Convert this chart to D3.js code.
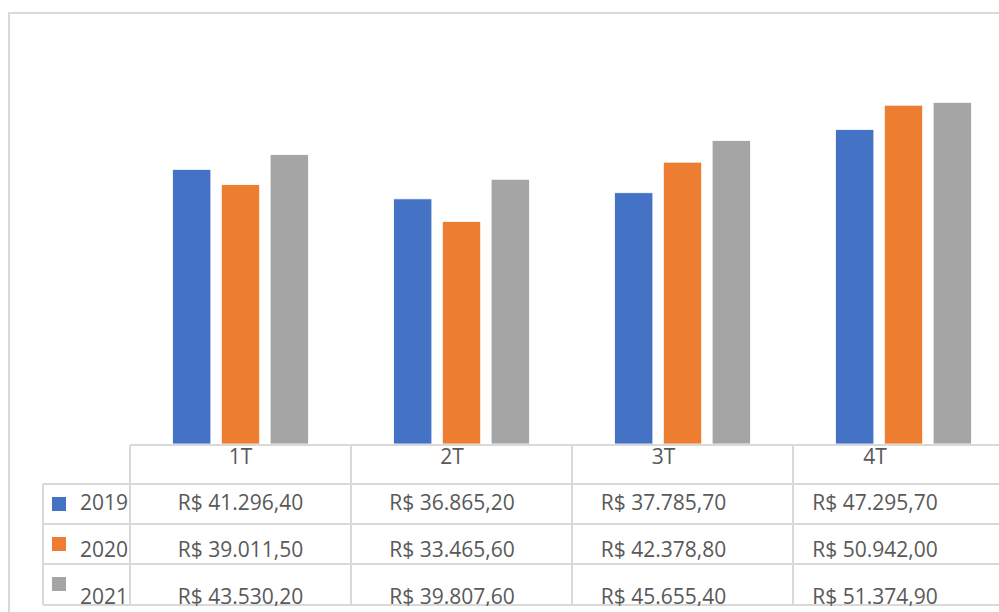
<!DOCTYPE html>
<html>
<head>
<meta charset="utf-8">
<script src="https://cdn.jsdelivr.net/npm/d3@7"></script>
<style>
  html, body { margin: 0; padding: 0; background: #ffffff; overflow: hidden; }
  svg { display: block; }
  text { font-family: "Open Sans", "Noto Sans", sans-serif; fill: #595959; }
</style>
</head>
<body>
<svg id="chart" width="999" height="612"></svg>
<script>
// ---- data ----
const categories = ["1T", "2T", "3T", "4T"];
const seriesNames = ["2019", "2020", "2021"];
const values2019 = [41296.40, 36865.20, 37785.70, 47295.70];
const values2020 = [39011.50, 33465.60, 42378.80, 50942.00];
const values2021 = [43530.20, 39807.60, 45655.40, 51374.90];
const seriesColors = ["#4472C4", "#ED7D31", "#A5A5A5"];
const yMax = 60000;

const seriesValues = [values2019, values2020, values2021];
const series = seriesNames.map((name, i) => ({ name, color: seriesColors[i], values: seriesValues[i] }));

const ptBR = d3.formatLocale({ decimal: ",", thousands: ".", grouping: [3], currency: ["R$ ", ""] });
const fmt = ptBR.format("$,.2f");

const svg = d3.select("#chart");
const fontSize = 21;

// outer chart border
svg.append("rect")
  .attr("x", 9).attr("y", 13)
  .attr("width", 1100).attr("height", 700)
  .attr("fill", "#ffffff")
  .attr("stroke", "#d9d9d9").attr("stroke-width", 2);

// scales
const x0 = d3.scaleBand().domain(categories).range([130, 130 + 221 * categories.length]);
const x1 = d3.scaleBand().domain(seriesNames)
  .range([42.5, x0.bandwidth() - 42.5])
  .paddingInner(10.5 / 49);
const y = d3.scaleLinear().domain([0, yMax]).range([444, 45]);
// label positions inside the data table
const xText = d3.scaleBand().domain(categories).range([134.75, 980.75]);

// bars
const groups = svg.append("g").selectAll("g")
  .data(series).join("g")
  .attr("fill", d => d.color);

groups.selectAll("rect")
  .data(d => d.values.map((v, i) => ({ cat: categories[i], name: d.name, v })))
  .join("rect")
  .attr("x", d => x0(d.cat) + x1(d.name))
  .attr("y", d => y(d.v))
  .attr("width", x1.bandwidth())
  .attr("height", d => y(0) - y(d.v))
  .attr("stroke", "#ffffff")
  .attr("stroke-width", 0.8);

// data table
const lineColor = "#d9d9d9";
const tableLeft = 43;
const tableRight = x0.range()[1];
const headerTop = 445;
const rowTops = [484, 524, 564];
const tableBottom = 605;

const grid = svg.append("g").attr("stroke", lineColor).attr("stroke-width", 2).attr("fill", "none");
grid.append("line").attr("x1", x0.range()[0]).attr("x2", tableRight).attr("y1", headerTop).attr("y2", headerTop);
rowTops.concat([tableBottom]).forEach(yy => {
  grid.append("line").attr("x1", tableLeft).attr("x2", tableRight).attr("y1", yy).attr("y2", yy);
});
grid.append("line").attr("x1", tableLeft).attr("x2", tableLeft).attr("y1", rowTops[0]).attr("y2", tableBottom);
categories.forEach(c => {
  grid.append("line").attr("x1", x0(c)).attr("x2", x0(c)).attr("y1", headerTop).attr("y2", tableBottom);
});
grid.append("line").attr("x1", tableRight).attr("x2", tableRight).attr("y1", headerTop).attr("y2", tableBottom);

// header labels
svg.append("g").selectAll("text")
  .data(categories).join("text")
  .attr("x", c => xText(c) + xText.bandwidth() / 2)
  .attr("y", 464)
  .attr("text-anchor", "middle")
  .attr("font-size", fontSize)
  .text(c => c);

// rows
const rowBaselines = [510, 557, 604];
const rowSquares = [497, 537, 577];
series.forEach((s, i) => {
  svg.append("rect")
    .attr("x", 52).attr("y", rowSquares[i])
    .attr("width", 14).attr("height", 14)
    .attr("fill", s.color);
  svg.append("text")
    .attr("x", 80).attr("y", rowBaselines[i])
    .attr("font-size", fontSize)
    .text(s.name);
  svg.append("g").selectAll("text")
    .data(s.values).join("text")
    .attr("x", (v, j) => xText(categories[j]) + xText.bandwidth() / 2)
    .attr("y", rowBaselines[i])
    .attr("text-anchor", "middle")
    .attr("font-size", fontSize)
    .text(v => fmt(v));
});

// clip the table bottom like the reference (text cut at the last line)
svg.append("rect")
  .attr("x", 10).attr("y", tableBottom + 1)
  .attr("width", 1000).attr("height", 20)
  .attr("fill", "#ffffff");
</script>
</body>
</html>
